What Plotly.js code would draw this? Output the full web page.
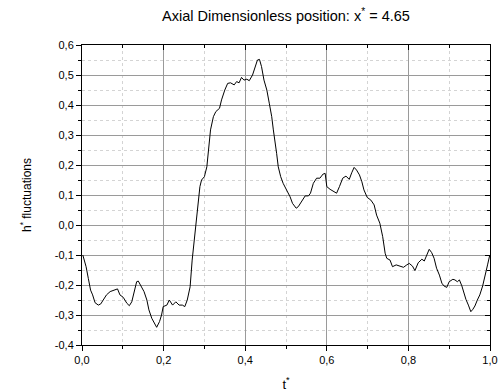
<!DOCTYPE html>
<html>
<head>
<meta charset="utf-8">
<script src="https://cdn.plot.ly/plotly-3.0.1.min.js"></script>
<style>html,body{margin:0;padding:0;background:#fff;}#chart{width:501px;height:392px;}</style>
</head>
<body>
<div id="chart"></div>
<script>
const tValues = [0.002,0.010,0.0155,0.021,0.026,0.032,0.040,0.046,0.052,0.060,0.069,0.077,0.087,0.093,0.101,0.110,0.116,0.122,0.127,0.134,0.138,0.144,0.152,0.159,0.164,0.171,0.176,0.183,0.190,0.195,0.199,0.208,0.214,0.222,0.230,0.238,0.246,0.252,0.258,0.265,0.270,0.276,0.281,0.285,0.289,0.293,0.300,0.306,0.310,0.315,0.322,0.328,0.337,0.342,0.350,0.357,0.364,0.373,0.379,0.385,0.391,0.397,0.404,0.410,0.418,0.424,0.430,0.435,0.440,0.446,0.453,0.459,0.465,0.469,0.473,0.477,0.481,0.487,0.493,0.502,0.510,0.516,0.525,0.530,0.538,0.547,0.555,0.560,0.567,0.575,0.583,0.591,0.596,0.600,0.608,0.616,0.624,0.631,0.639,0.647,0.655,0.661,0.667,0.673,0.680,0.686,0.691,0.699,0.708,0.716,0.722,0.730,0.737,0.743,0.747,0.755,0.761,0.770,0.778,0.788,0.796,0.802,0.810,0.816,0.824,0.833,0.839,0.845,0.851,0.857,0.863,0.869,0.876,0.882,0.887,0.894,0.900,0.909,0.914,0.920,0.925,0.931,0.936,0.941,0.947,0.953,0.958,0.963,0.969,0.975,0.982,0.988,0.994,0.999];
const hValues = [-0.100,-0.139,-0.178,-0.217,-0.233,-0.259,-0.267,-0.263,-0.250,-0.233,-0.222,-0.217,-0.213,-0.233,-0.241,-0.261,-0.269,-0.256,-0.228,-0.189,-0.187,-0.200,-0.222,-0.250,-0.283,-0.311,-0.322,-0.341,-0.322,-0.300,-0.272,-0.267,-0.250,-0.267,-0.256,-0.267,-0.267,-0.272,-0.250,-0.206,-0.117,-0.039,0.028,0.094,0.128,0.150,0.161,0.194,0.250,0.317,0.361,0.378,0.389,0.417,0.450,0.472,0.474,0.467,0.478,0.474,0.492,0.483,0.486,0.481,0.500,0.528,0.550,0.552,0.528,0.483,0.450,0.406,0.361,0.317,0.283,0.239,0.194,0.161,0.139,0.117,0.094,0.072,0.056,0.061,0.078,0.097,0.097,0.106,0.139,0.156,0.156,0.170,0.172,0.128,0.119,0.111,0.106,0.128,0.156,0.163,0.152,0.174,0.192,0.183,0.167,0.144,0.117,0.092,0.083,0.067,0.033,0.006,-0.039,-0.094,-0.111,-0.117,-0.139,-0.133,-0.137,-0.141,-0.133,-0.128,-0.137,-0.152,-0.126,-0.114,-0.120,-0.103,-0.081,-0.092,-0.111,-0.144,-0.167,-0.194,-0.203,-0.208,-0.189,-0.181,-0.183,-0.189,-0.183,-0.203,-0.228,-0.248,-0.267,-0.289,-0.281,-0.270,-0.250,-0.233,-0.203,-0.172,-0.133,-0.103];
const xTickVals = [0, 0.2, 0.4, 0.6, 0.8, 1.0];
const xTickLabels = ['0,0', '0,2', '0,4', '0,6', '0,8', '1,0'];
const yTickVals = [-0.4, -0.3, -0.2, -0.1, 0, 0.1, 0.2, 0.3, 0.4, 0.5, 0.6];
const yTickLabels = ['-0,4', '-0,3', '-0,2', '-0,1', '0,0', '0,1', '0,2', '0,3', '0,4', '0,5', '0,6'];
const titleText = 'Axial Dimensionless position: x<sup>*</sup> = 4.65';
const xTitle = 't<sup>*</sup>';
const yTitle = 'h<sup>*</sup> fluctuations';

const FONT = 'Liberation Sans, Arial, sans-serif';
const traces = [
  {x: tValues, y: hValues, type: 'scatter', mode: 'lines', line: {color: '#000', width: 1}, hoverinfo: 'skip'},
  {x: tValues, y: hValues, xaxis: 'x2', yaxis: 'y2', type: 'scatter', mode: 'lines', opacity: 0, line: {width: 0}, hoverinfo: 'skip', showlegend: false}
];
const axisCommon = {
  showline: true, linecolor: '#000', linewidth: 1, zeroline: false,
  tickfont: {family: FONT, size: 11, color: '#000'}
};
const layout = {
  width: 501, height: 392,
  margin: {l: 82, r: 11, t: 45, b: 47},
  paper_bgcolor: '#fff', plot_bgcolor: '#fff',
  showlegend: false,
  font: {family: FONT, color: '#000'},
  title: {text: titleText, font: {family: FONT, size: 14.5, color: '#000'}, x: 0.5, xref: 'paper', xanchor: 'center', y: 1 - 16/392, yref: 'container', yanchor: 'middle'},
  xaxis: Object.assign({}, axisCommon, {
    range: [0, 1], tickmode: 'array', tickvals: xTickVals, ticktext: xTickLabels,
    ticks: 'outside', ticklen: 5, tickcolor: '#000', mirror: true,
    showgrid: true, gridcolor: '#9a9a9a', gridwidth: 1,
    minor: {dtick: 0.1, tick0: 0, ticks: 'outside', ticklen: 3, tickcolor: '#000', showgrid: true, gridcolor: '#d4d4d4', griddash: 'dot', gridwidth: 1},
    title: {text: xTitle, font: {family: FONT, size: 13, color: '#000'}, standoff: 14}
  }),
  yaxis: Object.assign({}, axisCommon, {
    range: [-0.4, 0.6], tickmode: 'array', tickvals: yTickVals, ticktext: yTickLabels,
    ticks: 'outside', ticklen: 5, tickcolor: '#000', mirror: true,
    showgrid: true, gridcolor: '#9a9a9a', gridwidth: 1,
    minor: {dtick: 0.05, tick0: 0, ticks: 'outside', ticklen: 3, tickcolor: '#000', showgrid: true, gridcolor: '#d4d4d4', griddash: 'dot', gridwidth: 1},
    title: {text: yTitle, font: {family: FONT, size: 12, color: '#000'}, standoff: 20}
  }),
  xaxis2: {
    overlaying: 'x', side: 'top', anchor: 'y2', range: [0, 1], showgrid: false, zeroline: false, showline: false,
    showticklabels: false, tickmode: 'array', tickvals: xTickVals, ticks: 'inside', ticklen: 5, tickcolor: '#000',
    minor: {dtick: 0.1, tick0: 0, ticks: 'inside', ticklen: 3, tickcolor: '#000', showgrid: false}
  },
  yaxis2: {
    overlaying: 'y', side: 'right', anchor: 'x2', range: [-0.4, 0.6], showgrid: false, zeroline: false, showline: false,
    showticklabels: false, tickmode: 'array', tickvals: yTickVals, ticks: 'inside', ticklen: 5, tickcolor: '#000',
    minor: {dtick: 0.05, tick0: 0, ticks: 'inside', ticklen: 3, tickcolor: '#000', showgrid: false}
  }
};
Plotly.newPlot('chart', traces, layout, {staticPlot: true, displayModeBar: false});
</script>
</body>
</html>
